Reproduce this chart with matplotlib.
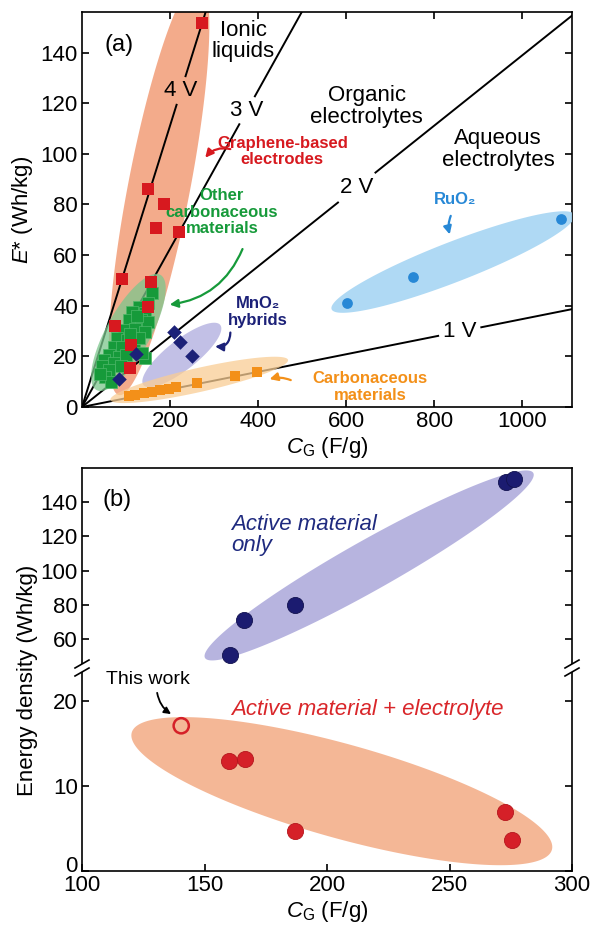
import numpy as np
import matplotlib
matplotlib.use("Agg")
import matplotlib.pyplot as plt
import matplotlib.transforms as mtransforms
from matplotlib.patches import Polygon, FancyArrowPatch

plt.rcParams['font.family'] = ['Liberation Sans', 'DejaVu Sans']
plt.rcParams['mathtext.fontset'] = 'custom'
plt.rcParams['mathtext.rm'] = 'Liberation Sans'
plt.rcParams['mathtext.it'] = 'Liberation Sans:italic'
plt.rcParams['mathtext.bf'] = 'Liberation Sans:bold'

# ---------------- data: panel (a) ----------------
voltages = [1, 2, 3, 4]
voltage_labels = ['1 V', '2 V', '3 V', '4 V']
voltage_label_cg = [858, 624, 375, 225]

graphene_cg = [273, 151, 187, 167, 221, 90, 157, 150, 74, 112, 108]
graphene_e = [151.5, 86, 80, 70.5, 69, 50.4, 49.4, 39.6, 32, 24.5, 15.5]

other_cg = [159, 129, 114, 144, 106, 133, 151, 95, 121, 144, 80, 102, 129, 72, 91,
            118, 61, 84, 144, 50, 72, 46, 61, 53, 99, 136, 150, 110, 125, 88, 66, 42]
other_e = [45, 39.6, 37.7, 37, 34.3, 34.3, 33.7, 30.5, 31, 29.8, 27.2, 26.5, 27.2, 23.8, 23.8,
           22.5, 20.5, 19.9, 19.3, 18.6, 17.3, 16, 14.6, 12, 20.5, 21.2, 41, 29, 36, 16, 10, 13]

mno2_cg = [83, 123, 208, 223, 250]
mno2_e = [11, 21, 29.5, 25.5, 20]

carb_cg = [397, 348, 261, 214, 197, 178, 159, 140, 121, 106]
carb_e = [14, 12.4, 9.6, 8, 7, 6.7, 6.1, 5.4, 4.8, 4.2]

ruo2_cg = [601, 751, 1087]
ruo2_e = [41, 51.4, 74.2]

# ---------------- data: panel (b) ----------------
active_cg = [160.4, 166.2, 186.9, 273.1, 276.3]
active_e = [50.8, 70.8, 79.8, 152.1, 153.7]

electrolyte_cg = [160.2, 166.5, 187, 272.7, 275.6]
electrolyte_e = [12.9, 13.2, 4.7, 7.0, 3.7]

thiswork_cg = [140.5]
thiswork_e = [17.1]

a_xticks = [200, 400, 600, 800, 1000]
a_yticks = [0, 20, 40, 60, 80, 100, 120, 140]
b_xticks = [100, 150, 200, 250, 300]
b_top_yticks = [60, 80, 100, 120, 140]
b_bot_yticks = [0, 10, 20]

# ---------------- styles ----------------
RED = '#d7191f'
GREEN = '#169a3a'
NAVY = '#1c2178'
ORANGE = '#f39019'
BLUE = '#2788d6'
FS = 16
FS_C = 12

W, H = 591, 927
fig = plt.figure(figsize=(W / 100, H / 100), dpi=100)
fig.patch.set_facecolor('white')


def px_axes(l, t, r, b):
    return fig.add_axes([l / W, 1 - b / H, (r - l) / W, (b - t) / H])


def ellipse(ax, p1, p2, half_w, **kw):
    T = ax.transData
    a = T.transform(p1)
    b = T.transform(p2)
    c = (a + b) / 2
    d = b - a
    L = np.hypot(*d)
    u = d / L
    n = np.array([-u[1], u[0]])
    t = np.linspace(0, 2 * np.pi, 240)
    pts = c + np.outer(L / 2 * np.cos(t), u) + np.outer(half_w * np.sin(t), n)
    poly = Polygon(T.inverted().transform(pts), closed=True, lw=0, **kw)
    ax.add_patch(poly)


def style_axes(ax):
    for s in ax.spines.values():
        s.set_linewidth(1.2)
    ax.tick_params(direction='in', length=5, width=1.2, labelsize=FS, pad=3)


# ================= panel (a) =================
axa = px_axes(82, 12, 572, 407)
axa.set_xlim(0, 1113)
axa.set_ylim(0, 156)
style_axes(axa)
axa.set_xticks(a_xticks)
axa.set_yticks(a_yticks)
axa.tick_params(top=True, right=True)
axa.set_xlabel('$C_\\mathrm{G}$ (F/g)', fontsize=FS, labelpad=2)
axa.set_ylabel('$E$* (Wh/kg)', fontsize=FS, labelpad=4)

# graphene ellipse (under lines)
ellipse(axa, (84, 4.7), (266, 168.8), 31, facecolor='#f2a27f', alpha=0.9, zorder=1)

# voltage lines with gaps at labels
gaps = {1: 22, 2: 24, 3: 16, 4: 15}
T = axa.transData
for V, lab, xl in zip(voltages, voltage_labels, voltage_label_cg):
    k = V ** 2 / 28.8
    yl = k * xl
    p0 = T.transform((0, 0))
    pl = T.transform((xl, yl))
    u = (pl - p0) / np.hypot(*(pl - p0))
    a_end = T.inverted().transform(pl - u * gaps[V])
    b_start = T.inverted().transform(pl + u * gaps[V])
    xfar = 3000
    axa.plot([0, a_end[0]], [0, a_end[1]], color='black', lw=1.4, zorder=2)
    axa.plot([b_start[0], xfar], [b_start[1], k * xfar], color='black', lw=1.4, zorder=2)
    axa.text(xl, yl, lab, ha='center', va='center', fontsize=FS, zorder=5)

# other ellipses
ellipse(axa, (32.9, 6.7), (178, 52.2), 22, facecolor='#7cc68d', alpha=0.75, zorder=3)
ellipse(axa, (139.5, 8.7), (314, 32.4), 15, facecolor='#a9a6dc', alpha=0.7, zorder=3)
ellipse(axa, (64.6, 2.8), (468, 18.6), 12, facecolor='#f9cd94', alpha=0.75, zorder=3)
ellipse(axa, (567, 38.6), (1119, 75.9), 20, facecolor='#a6d5f3', alpha=0.9, zorder=3)

# markers
axa.scatter(other_cg, other_e, marker='s', s=66, color=GREEN, edgecolor='#4fb86a', linewidth=0.5, zorder=4)
axa.scatter(graphene_cg, graphene_e, marker='s', s=70, color=RED, linewidth=0, zorder=5)
axa.scatter(mno2_cg, mno2_e, marker='D', s=55, color=NAVY, linewidth=0, zorder=5)
axa.scatter(carb_cg, carb_e, marker='s', s=55, color=ORANGE, linewidth=0, zorder=5)
axa.scatter(ruo2_cg, ruo2_e, marker='o', s=60, color=BLUE, linewidth=0, zorder=5)

# texts
axa.text(84, 143, '(a)', fontsize=17, ha='center', va='center')
axa.text(366, 144.7, 'Ionic\nliquids', fontsize=FS, ha='center', va='center', linespacing=1.0)
axa.text(647, 118.6, 'Organic\nelectrolytes', fontsize=FS, ha='center', va='center', linespacing=1.05)
axa.text(945, 101.6, 'Aqueous\nelectrolytes', fontsize=FS, ha='center', va='center', linespacing=1.05)
axa.text(455, 101, 'Graphene-based\nelectrodes', fontsize=FS_C, color=RED, fontweight='bold',
         ha='center', va='center', linespacing=1.1)
axa.text(318, 77, 'Other\ncarbonaceous\nmaterials', fontsize=FS_C, color=GREEN, fontweight='bold',
         ha='center', va='center', linespacing=1.1)
axa.text(400, 37.5, 'MnO₂\nhybrids', fontsize=FS_C, color=NAVY, fontweight='bold',
         ha='center', va='center', linespacing=1.1)
axa.text(654, 7.9, 'Carbonaceous\nmaterials', fontsize=FS_C, color=ORANGE, fontweight='bold',
         ha='center', va='center', linespacing=1.1)
axa.text(847, 81.8, 'RuO₂', fontsize=FS_C, color=BLUE, fontweight='bold', ha='center', va='center')

# arrows
def arrow(ax, p1, p2, color, rad, lw=1.6, ms=12):
    ar = FancyArrowPatch(p1, p2, connectionstyle=f'arc3,rad={rad}', arrowstyle='-|>',
                         mutation_scale=ms, color=color, lw=lw, zorder=6)
    ax.add_patch(ar)

arrow(axa, (343, 101.6), (276, 97.6), RED, 0.35)
arrow(axa, (367, 63.4), (193, 40.3), GREEN, -0.3)
arrow(axa, (337, 30.5), (296, 24.0), NAVY, -0.6)
arrow(axa, (480, 10.2), (420, 10.7), ORANGE, 0.2)
arrow(axa, (840, 76.5), (837, 67.1), BLUE, 0.2)

# ================= panel (b) =================
axt = px_axes(82, 468, 572, 668)
axb = px_axes(82, 668, 572, 871)
for ax in (axt, axb):
    ax.set_xlim(100, 300)
    style_axes(ax)
axt.set_ylim(43, 160)
axb.set_ylim(0, 23.9)
axt.spines['bottom'].set_visible(False)
axb.spines['top'].set_visible(False)
axt.set_xticks([])
axt.set_yticks(b_top_yticks)
axt.tick_params(right=True, top=False, bottom=False, labelbottom=False)
axb.set_xticks(b_xticks)
axb.set_yticks(b_bot_yticks)
axb.tick_params(right=True, top=False)
axb.set_xlabel('$C_\\mathrm{G}$ (F/g)', fontsize=FS, labelpad=2)
fig.text(28 / W, 1 - 680 / H, 'Energy density (Wh/kg)', rotation=90, fontsize=FS,
         ha='center', va='center')

# nudge the "0" label of the lower axis up a little (as in the reference)
fig.canvas.draw()
zero_lab = axb.get_yticklabels()[0]
zero_lab.set_transform(zero_lab.get_transform() +
                       mtransforms.ScaledTranslation(0, 7 / 100, fig.dpi_scale_trans))

ellipse(axt, (150.2, 48.9), (284.2, 157.1), 25, facecolor='#b3b0de', alpha=0.95, zorder=1)
ellipse(axb, (120.3, 16.3), (291.8, 2.5), 47, facecolor='#f4b391', alpha=0.95, zorder=1)

axt.scatter(active_cg, active_e, s=135, color='#1b1b70', edgecolor='#12124f', linewidth=0.6, zorder=4)
axb.scatter(electrolyte_cg, electrolyte_e, s=135, color='#d52028', edgecolor='#b5161c', linewidth=0.6, zorder=4)
axb.scatter(thiswork_cg, thiswork_e, s=120, facecolor='none', edgecolor='#d52028', linewidth=1.8, zorder=4)

axt.text(114.3, 141.5, '(b)', fontsize=17, ha='center', va='center')
axt.text(161, 121, 'Active material\nonly', fontsize=FS, color='#1f2a7f', style='italic',
         ha='left', va='center', linespacing=1.0)
axb.text(161, 19, 'Active material + electrolyte', fontsize=FS, color='#d9262a', style='italic',
         ha='left', va='center')
axb.text(127, 22.6, 'This work', fontsize=14, ha='center', va='center')
arrow(axb, (130.5, 21.3), (137.3, 18.3), 'black', 0.25, lw=1.3, ms=10)

# axis break marks
for xpx in (82, 572):
    xf = xpx / W
    yc = 1 - 668 / H
    dy = 4 / H
    fig.patches.append(plt.Rectangle((xf - 3 / W, yc - dy), 6 / W, 2 * dy,
                                     transform=fig.transFigure, facecolor='white', edgecolor='none', zorder=10))
    for off in (-4, 4):
        fig.add_artist(plt.Line2D([xf - 7 / W, xf + 7 / W],
                                  [yc + off / H - 4 / H, yc + off / H + 4 / H],
                                  transform=fig.transFigure, color='black', lw=1.2, zorder=11))

fig.savefig('out.png', dpi=100)
